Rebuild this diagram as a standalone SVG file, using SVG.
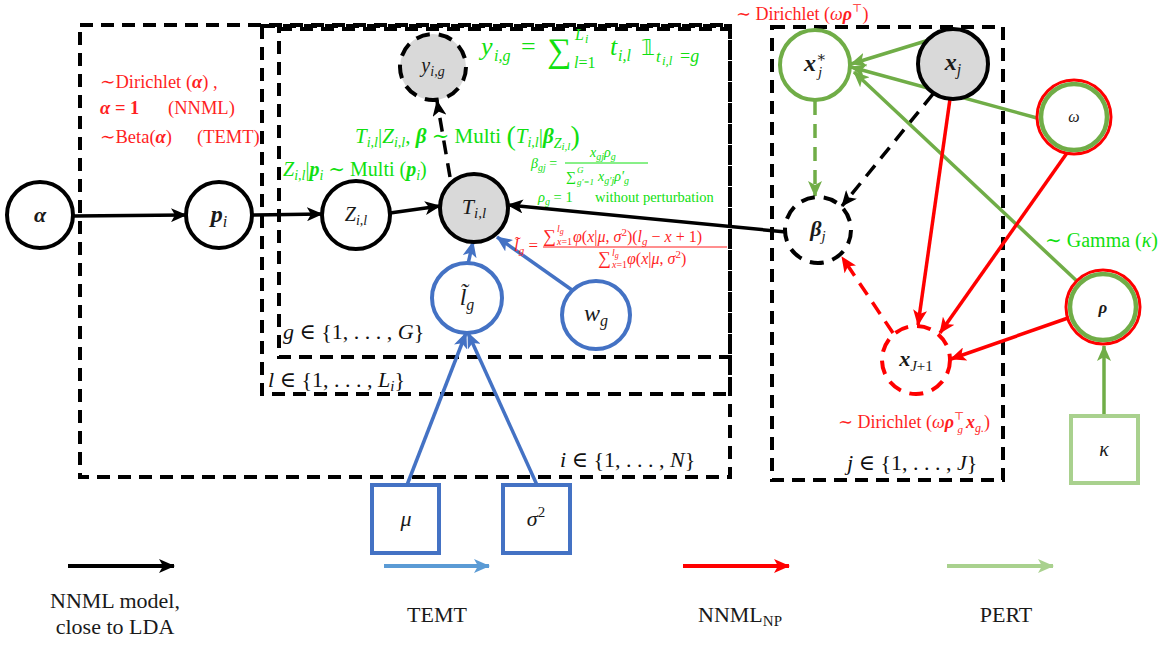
<svg xmlns="http://www.w3.org/2000/svg" width="1159" height="645" viewBox="0 0 1159 645">
<defs>
<style>
.plate{fill:none;stroke:#000;stroke-width:4;stroke-dasharray:13 8}
.n{fill:#fff;stroke:#000;stroke-width:4}
.gray{fill:#d9d9d9}
.dsh{stroke-dasharray:14 9}
.bl{stroke:#4472c4}
.gr{stroke:#70ad47}
.rd{stroke:#ff0000}
.e{fill:none;stroke-width:3.5}
.f{font-family:"Liberation Serif","DejaVu Serif",serif}
.i{font-style:italic}
.bi{font-style:italic;font-weight:bold}
.gt{fill:#10e010}
.rt{fill:#ff1f1f}
.lab{fill:#1a1a1a;text-anchor:middle}
.blk{fill:#111}
</style>
<marker id="ak" markerUnits="userSpaceOnUse" markerWidth="16" markerHeight="14" viewBox="0 0 16 14" refX="15" refY="7" orient="auto"><path d="M0,0 L16,7 L0,14 L4,7 z" fill="#000"/></marker>
<marker id="ab" markerUnits="userSpaceOnUse" markerWidth="16" markerHeight="14" viewBox="0 0 16 14" refX="15" refY="7" orient="auto"><path d="M0,0 L16,7 L0,14 L4,7 z" fill="#4472c4"/></marker>
<marker id="ag" markerUnits="userSpaceOnUse" markerWidth="16" markerHeight="14" viewBox="0 0 16 14" refX="15" refY="7" orient="auto"><path d="M0,0 L16,7 L0,14 L4,7 z" fill="#70ad47"/></marker>
<marker id="ar" markerUnits="userSpaceOnUse" markerWidth="16" markerHeight="14" viewBox="0 0 16 14" refX="15" refY="7" orient="auto"><path d="M0,0 L16,7 L0,14 L4,7 z" fill="#ff0000"/></marker>
<marker id="alb" markerUnits="userSpaceOnUse" markerWidth="16" markerHeight="14" viewBox="0 0 16 14" refX="15" refY="7" orient="auto"><path d="M0,0 L16,7 L0,14 L4,7 z" fill="#5b9bd5"/></marker>
<marker id="alg" markerUnits="userSpaceOnUse" markerWidth="16" markerHeight="14" viewBox="0 0 16 14" refX="15" refY="7" orient="auto"><path d="M0,0 L16,7 L0,14 L4,7 z" fill="#a9d18e"/></marker>
</defs>
<rect width="1159" height="645" fill="#fff"/>

<g id="plates">
<rect class="plate" x="80" y="25" width="650" height="452"/>
<rect class="plate" x="262" y="26" width="468" height="368"/>
<rect class="plate" x="279" y="29" width="451" height="328"/>
<rect class="plate" x="772" y="27" width="231" height="453"/>
<text class="f blk" font-size="22" x="283" y="339"><tspan class="i">g</tspan> ∈ {1, . . . , <tspan class="i">G</tspan>}</text>
<text class="f blk" font-size="22" x="268" y="387"><tspan class="i">l</tspan> ∈ {1, . . . , <tspan class="i">L</tspan><tspan class="i" font-size="15" dy="4">i</tspan><tspan dy="-4">}</tspan></text>
<text class="f blk" font-size="22" x="560" y="467"><tspan class="i">i</tspan> ∈ {1, . . . , <tspan class="i">N</tspan>}</text>
<text class="f blk" font-size="22" x="847" y="470"><tspan class="i">j</tspan> ∈ {1, . . . , <tspan class="i">J</tspan>}</text>
</g>

<g id="connectors">
<line class="e" stroke="#000" x1="73" y1="216" x2="186" y2="215" marker-end="url(#ak)"/>
<line class="e" stroke="#000" x1="252" y1="215" x2="322" y2="214" marker-end="url(#ak)"/>
<line class="e" stroke="#000" x1="390" y1="213" x2="440" y2="206" marker-end="url(#ak)"/>
<line class="e dsh" stroke="#000" x1="450" y1="177" x2="437" y2="101" marker-end="url(#ak)"/>
<line class="e" stroke="#000" x1="786" y1="232" x2="508" y2="205" marker-end="url(#ak)"/>
<line class="e" stroke="#4472c4" x1="468" y1="264" x2="473" y2="242" marker-end="url(#ab)"/>
<line class="e" stroke="#4472c4" x1="572" y1="290" x2="497" y2="237" marker-end="url(#ab)"/>
<line class="e" stroke="#4472c4" x1="407" y1="485" x2="466" y2="333" marker-end="url(#ab)"/>
<line class="e" stroke="#4472c4" x1="537" y1="485" x2="468" y2="333" marker-end="url(#ab)"/>
<line class="e dsh" stroke="#70ad47" x1="815" y1="101" x2="815" y2="196" marker-end="url(#ag)"/>
<line class="e dsh" stroke="#000" x1="933" y1="94" x2="842" y2="206" marker-end="url(#ak)"/>
<line class="e" stroke="#70ad47" x1="929" y1="40" x2="851" y2="64" marker-end="url(#ag)"/>
<line class="e" stroke="#70ad47" x1="1037" y1="118" x2="851" y2="67" marker-end="url(#ag)"/>
<line class="e" stroke="#70ad47" x1="1079" y1="283" x2="854" y2="72" marker-end="url(#ag)"/>
<line class="e" stroke="#ff0000" x1="950" y1="99" x2="918" y2="325" marker-end="url(#ar)"/>
<line class="e" stroke="#ff0000" x1="1067" y1="153" x2="940" y2="333" marker-end="url(#ar)"/>
<line class="e" stroke="#ff0000" x1="1068" y1="318" x2="951" y2="359" marker-end="url(#ar)"/>
<line class="e dsh" stroke="#ff0000" x1="893" y1="333" x2="842" y2="257" marker-end="url(#ar)"/>
<line class="e" stroke="#70ad47" x1="1104" y1="415" x2="1104" y2="346" marker-end="url(#ag)"/>
</g>

<g id="alpha"><circle class="n" cx="40" cy="215" r="33"/><text class="f bi lab" font-size="22" x="40" y="222">α</text></g>
<g id="p_i"><circle class="n" cx="219" cy="215" r="33"/><text class="f bi lab" font-size="24" x="219" y="222">p<tspan class="i" font-weight="normal" font-size="16" dy="5">i</tspan></text></g>
<g id="Z"><circle class="n" cx="356" cy="215" r="34"/><text class="f i lab" font-size="20" x="356" y="221">Z<tspan font-size="14" dy="4">i,l</tspan></text></g>
<g id="T"><circle class="n gray" cx="474" cy="208" r="34"/><text class="f i lab" font-size="22" x="474" y="214">T<tspan font-size="15" dy="4">i,l</tspan></text></g>
<g id="y"><circle class="n gray dsh" cx="433" cy="67" r="33"/><text class="f i lab" font-size="20" x="433" y="72">y<tspan font-size="14" dy="4">i,g</tspan></text></g>
<g id="l_g"><circle class="n bl" cx="467" cy="298" r="35"/><text class="f i lab" font-size="24" x="467" y="305">l̃<tspan font-size="16" dy="5">g</tspan></text></g>
<g id="w_g"><circle class="n bl" cx="596" cy="315" r="34"/><text class="f i lab" font-size="24" x="596" y="321">w<tspan font-size="16" dy="5">g</tspan></text></g>
<g id="mu"><rect class="n bl" x="372" y="485" width="67" height="68"/><text class="f i lab" font-size="22" x="406" y="526">μ</text></g>
<g id="sigma2"><rect class="n bl" x="503" y="485" width="67" height="68"/><text class="f i lab" font-size="22" x="536" y="526">σ<tspan font-style="normal" font-size="15" dy="-9">2</tspan></text></g>
<g id="beta_j"><circle class="n dsh" cx="818" cy="230" r="33"/><text class="f bi lab" font-size="22" x="818" y="236">β<tspan font-weight="normal" font-size="15" dy="5">j</tspan></text></g>
<g id="x_star"><circle class="n gr" cx="815" cy="65" r="35"/><text class="f bi lab" font-size="24" x="815" y="71">x<tspan font-weight="normal" font-style="normal" font-size="15" dy="-9">∗</tspan><tspan font-weight="normal" font-size="15" dx="-8" dy="15">j</tspan></text></g>
<g id="x_j"><circle class="n gray" cx="953" cy="64" r="35"/><text class="f bi lab" font-size="24" x="953" y="70">x<tspan font-weight="normal" font-size="16" dy="5">j</tspan></text></g>
<g id="omega"><circle cx="1074" cy="117" r="37" fill="#fff" stroke="#ff0000" stroke-width="3"/><circle cx="1074" cy="117" r="33" fill="#fff" stroke="#70ad47" stroke-width="4.5"/><text class="f i lab" font-size="16" x="1074" y="122">ω</text></g>
<g id="rho"><circle cx="1103" cy="307" r="37" fill="#fff" stroke="#ff0000" stroke-width="3"/><circle cx="1103" cy="307" r="33" fill="#fff" stroke="#70ad47" stroke-width="4.5"/><text class="f bi lab" font-size="17" x="1103" y="313">ρ</text></g>
<g id="x_J1"><circle class="n rd dsh" cx="916" cy="360" r="34"/><text class="f bi lab" font-size="22" x="916" y="366">x<tspan font-weight="normal" font-size="15" dy="5">J<tspan font-style="normal">+1</tspan></tspan></text></g>
<g id="kappa"><rect x="1071" y="416" width="67" height="67" fill="#fff" stroke="#a9d18e" stroke-width="4"/><text class="f i lab" font-size="20" x="1104" y="456">κ</text></g>

<g id="formulas">
<text class="f rt" font-size="18.5">
<tspan x="100" y="88">∼Dirichlet (<tspan class="bi">α</tspan>) ,</tspan>
<tspan x="100" y="114" font-weight="bold"><tspan class="bi">α</tspan> = 1</tspan><tspan x="168" y="114">(NNML)</tspan>
<tspan x="100" y="143">∼Beta(<tspan class="bi">α</tspan>)</tspan><tspan x="197" y="143">(TEMT)</tspan>
</text>

<text class="f gt" font-size="26">
<tspan class="i" x="481" y="55">y</tspan><tspan class="i" font-size="16" x="494" y="61">i,g</tspan>
<tspan x="521" y="55">=</tspan>
<tspan x="547" y="62" font-size="34">∑</tspan>
<tspan class="i" font-size="16" x="575" y="40">L</tspan><tspan class="i" font-size="12" x="585" y="43">i</tspan>
<tspan font-size="16" x="574" y="68"><tspan class="i">l</tspan>=1</tspan>
<tspan class="i" x="610" y="55">t</tspan><tspan class="i" font-size="16" x="618" y="61">i,l</tspan>
<tspan x="641" y="55" font-size="22" font-family="DejaVu Sans">𝟙</tspan><tspan class="i" font-size="17" x="656" y="62">t</tspan><tspan class="i" font-size="13" x="662" y="65">i,l</tspan><tspan font-size="18" x="680" y="62">=<tspan class="i">g</tspan></tspan>
</text>

<text class="f gt" font-size="21" x="355" y="143"><tspan class="i">T</tspan><tspan class="i" font-size="14" dy="4">i,l</tspan><tspan dy="-4">|</tspan><tspan class="i">Z</tspan><tspan class="i" font-size="14" dy="4">i,l</tspan><tspan dy="-4">, </tspan><tspan class="bi">β</tspan> ∼ Multi <tspan font-size="28" dy="2">(</tspan><tspan class="i" dy="-2">T</tspan><tspan class="i" font-size="14" dy="4">i,l</tspan><tspan dy="-4">|</tspan><tspan class="bi">β</tspan><tspan class="i" font-size="14" dy="5">Z</tspan><tspan class="i" font-size="11" dy="2">i,l</tspan><tspan font-size="28" dy="-5">)</tspan></text>

<text class="f gt" font-size="20" x="283" y="176"><tspan class="i">Z</tspan><tspan class="i" font-size="14" dy="4">i,l</tspan><tspan dy="-4">|</tspan><tspan class="bi">p</tspan><tspan class="i" font-size="14" dy="4">i</tspan><tspan dy="-4"> ∼ Multi (</tspan><tspan class="bi">p</tspan><tspan class="i" font-size="14" dy="4">i</tspan><tspan dy="-4">)</tspan></text>

<text class="f gt" font-size="14" x="531" y="168"><tspan class="i">β</tspan><tspan class="i" font-size="10" dy="3">gj</tspan><tspan dy="-3"> =</tspan></text>
<line x1="565" y1="163" x2="648" y2="163" stroke="#10e010" stroke-width="1"/>
<text class="f gt i" font-size="14" x="590" y="157">x<tspan font-size="10" dy="3">gj</tspan><tspan dy="-3">ρ</tspan><tspan font-size="10" dy="3">g</tspan></text>
<text class="f gt" font-size="14"><tspan x="566" y="181">∑</tspan><tspan class="i" font-size="9" x="577" y="173">G</tspan><tspan class="i" font-size="9" x="577" y="185">g′=1</tspan><tspan class="i" x="598" y="181">x</tspan><tspan class="i" font-size="10" dy="3">g′j</tspan><tspan class="i" dy="-3">ρ′</tspan><tspan class="i" font-size="10" dy="3">g</tspan></text>

<text class="f gt" font-size="14.5"><tspan class="i" x="538" y="202">ρ</tspan><tspan class="i" font-size="10" dy="3">g</tspan><tspan dy="-3"> = 1</tspan><tspan x="595" y="202">without perturbation</tspan></text>

<text class="f rt" font-size="17" x="514" y="251"><tspan class="i">l̃</tspan><tspan class="i" font-size="11" dy="3">g</tspan><tspan dy="-3"> =</tspan></text>
<line x1="543" y1="247" x2="727" y2="247" stroke="#ff1f1f" stroke-width="1"/>
<text class="f rt" font-size="16"><tspan x="543" y="242" font-size="18">∑</tspan><tspan class="i" font-size="10" x="557" y="232">l<tspan font-size="8" dy="2">g</tspan></tspan><tspan class="i" font-size="10" x="557" y="245">x<tspan font-style="normal">=1</tspan></tspan><tspan x="573" y="242"><tspan class="i">φ</tspan>(<tspan class="i">x</tspan>|<tspan class="i">μ</tspan>, <tspan class="i">σ</tspan><tspan font-size="11" dy="-6">2</tspan><tspan dy="6">)(</tspan><tspan class="i">l</tspan><tspan class="i" font-size="11" dy="3">g</tspan><tspan dy="-3"> − </tspan><tspan class="i">x</tspan> + 1)</tspan></text>
<text class="f rt" font-size="16"><tspan x="598" y="264" font-size="18">∑</tspan><tspan class="i" font-size="10" x="612" y="256">l<tspan font-size="8" dy="2">g</tspan></tspan><tspan class="i" font-size="10" x="612" y="268">x<tspan font-style="normal">=1</tspan></tspan><tspan x="627" y="264"><tspan class="i">φ</tspan>(<tspan class="i">x</tspan>|<tspan class="i">μ</tspan>, <tspan class="i">σ</tspan><tspan font-size="11" dy="-6">2</tspan><tspan dy="6">)</tspan></tspan></text>

<text class="f rt" font-size="18" x="736" y="20">∼ Dirichlet (<tspan class="i">ω</tspan><tspan class="bi">ρ</tspan><tspan font-size="11" dy="-8">⊤</tspan><tspan dy="8">)</tspan></text>

<text class="f gt" font-size="20" x="1045" y="247">∼ Gamma (<tspan class="i">κ</tspan>)</text>

<text class="f rt" font-size="18" x="838" y="428">∼ Dirichlet (<tspan class="i">ω</tspan><tspan class="bi">ρ</tspan><tspan font-size="11" dy="-8">⊤</tspan><tspan class="i" font-size="11" dx="-7" dy="13">g</tspan><tspan class="bi" dx="3" dy="-5">x</tspan><tspan class="i" font-size="12" dy="4">g.</tspan><tspan dy="-4">)</tspan></text>
</g>

<g id="legend">
<line x1="68" y1="566" x2="174" y2="566" stroke="#000" stroke-width="4" marker-end="url(#ak)"/>
<line x1="384" y1="566" x2="489" y2="566" stroke="#5b9bd5" stroke-width="4" marker-end="url(#alb)"/>
<line x1="683" y1="566" x2="789" y2="566" stroke="#ff0000" stroke-width="4" marker-end="url(#ar)"/>
<line x1="947" y1="566" x2="1053" y2="566" stroke="#a9d18e" stroke-width="4" marker-end="url(#alg)"/>
<text class="f lab" font-size="22" x="115" y="608">NNML model,</text>
<text class="f lab" font-size="22" x="115" y="634">close to LDA</text>
<text class="f lab" font-size="22" x="437" y="622">TEMT</text>
<text class="f lab" font-size="22" x="740" y="622">NNML<tspan font-size="15" dy="4">NP</tspan></text>
<text class="f lab" font-size="22" x="1006" y="622">PERT</text>
</g>
</svg>
